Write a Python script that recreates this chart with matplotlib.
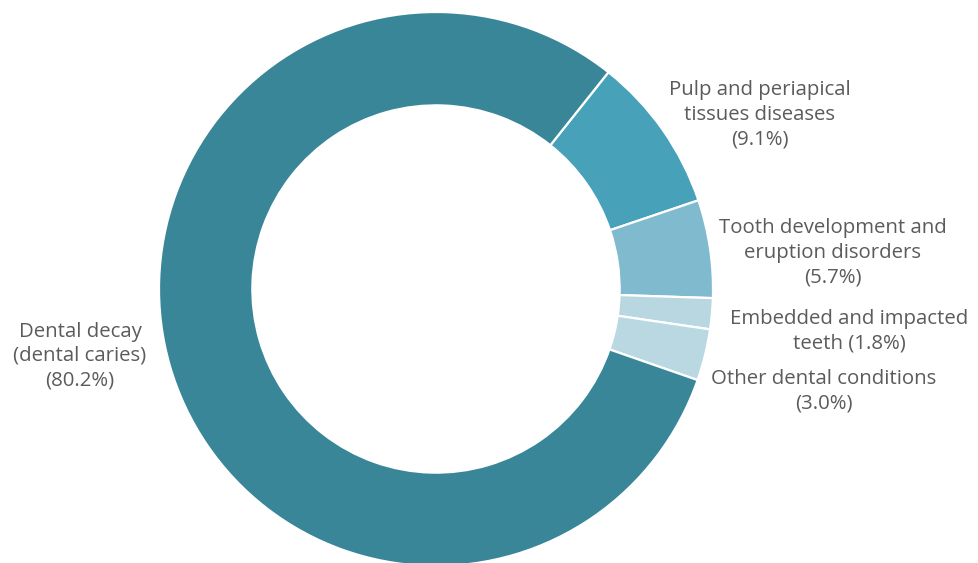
import matplotlib
matplotlib.use("Agg")
import matplotlib.pyplot as plt

# share of dental conditions, clockwise from the top right
labels = ["Pulp and periapical\ntissues diseases",
          "Tooth development and\neruption disorders",
          "Embedded and impacted\nteeth",
          "Other dental conditions",
          "Dental decay\n(dental caries)"]
shares = [9.1, 5.7, 1.8, 3.0, 80.2]
colors = ["#47a1b9", "#7fbace", "#b9d7e1", "#bad8e2", "#3a8699"]

# label anchor points (pixels, from top-left)
label_pos = [(760, 115), (833, 253), (849, 331), (824, 391), (80, 356)]
joins = ["\n", "\n", " ", "\n", "\n"]

W, H = 979, 563
fig = plt.figure(figsize=(W / 100, H / 100), dpi=100)
ax = fig.add_axes([0, 0, 1, 1])

cx, cy, r = 436, H - 289, 277
ax.pie(shares, colors=colors, startangle=51.5, counterclock=False,
       center=(cx, cy), radius=r, frame=True,
       wedgeprops=dict(width=r * 0.337, edgecolor="white", linewidth=1.6))
ax.set_xlim(0, W)
ax.set_ylim(0, H)
ax.set_aspect("equal")
ax.axis("off")

for lab, val, (x, y), j in zip(labels, shares, label_pos, joins):
    ax.text(x, H - y, f"{lab}{j}({val:.1f}%)", ha="center", va="center",
            fontsize=14.7, family="Open Sans", color="#5b5b5b",
            linespacing=1.3)

fig.savefig("out.png", dpi=100)
